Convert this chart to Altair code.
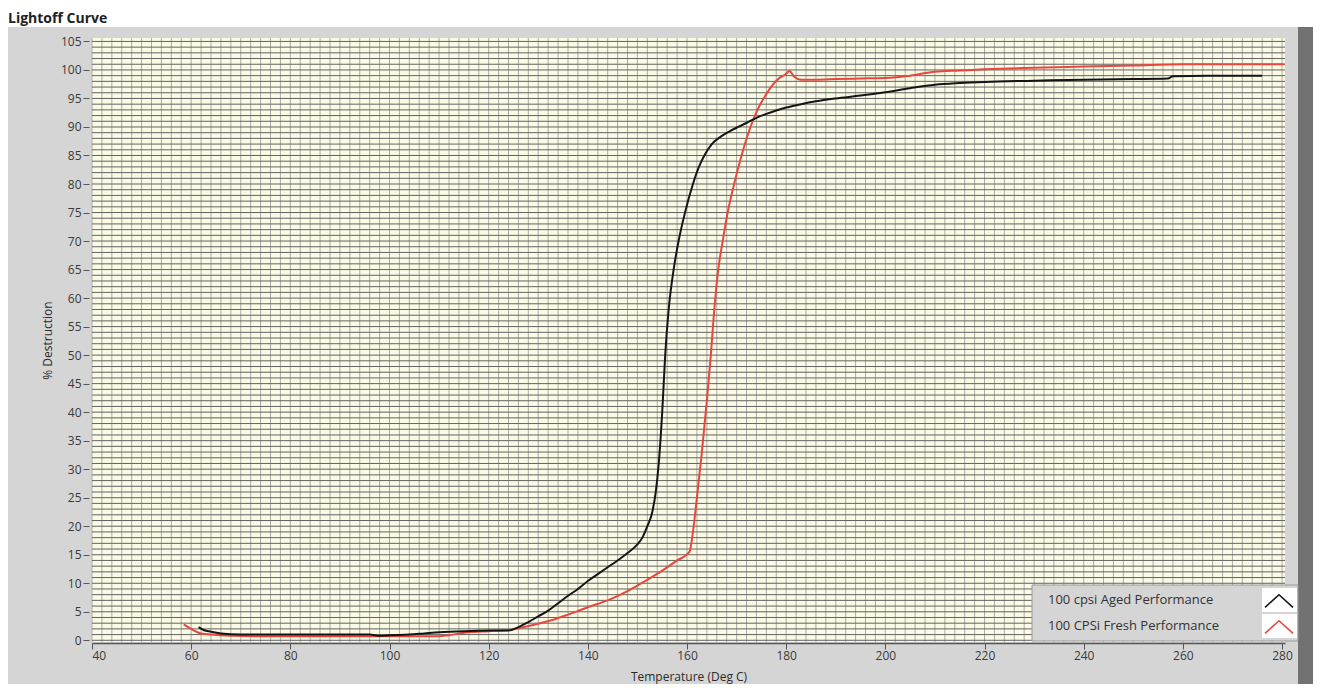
import altair as alt
import pandas as pd

# ---------------- data ----------------
series_names = ["100 cpsi Aged Performance", "100 CPSi Fresh Performance"]
series_colors = ["#151515", "#e8473d"]

aged_temp = [61.5, 62.5, 64, 66, 70, 80, 90, 96, 98, 100, 104, 107, 110, 115, 120, 124,
             126, 128, 130, 132, 134, 136, 138, 140, 142, 144, 146, 148, 150, 151, 152,
             153, 153.7, 154.3, 155, 155.6, 156.3, 157.3, 158.3, 159.6, 161.2, 162.4, 163.5,
             165, 166.8, 168.5, 170.3, 172, 174, 176, 178, 180, 183, 186, 190, 195, 200, 205,
             210, 215, 220, 230, 240, 250, 257, 258, 265, 276]
aged_pct = [2.3, 1.8, 1.5, 1.2, 1.0, 1.0, 1.0, 1.0, 0.8, 0.9, 1.0, 1.2, 1.4, 1.6, 1.7, 1.7,
            2.3, 3.2, 4.2, 5.2, 6.5, 7.8, 9.0, 10.4, 11.6, 12.8, 14.0, 15.3, 16.8, 18.0, 20.0,
            22.5, 26.0, 31.0, 40.0, 50.0, 58.0, 65.0, 70.0, 75.0, 80.0, 83.0, 85.0,
            87.0, 88.3, 89.2, 90.0, 90.7, 91.6, 92.3, 92.9, 93.4, 94.0, 94.5, 95.0, 95.5, 96.1, 96.8,
            97.4, 97.7, 97.9, 98.1, 98.3, 98.4, 98.5, 98.9, 99.0, 99.0]

fresh_temp = [58.5, 60, 62, 64, 68, 75, 90, 100, 110, 112, 116, 120, 124, 127, 130, 133,
              136, 140, 144, 148, 150, 152, 155, 158, 160.5, 161.2, 162, 163, 164, 164.8,
              165.5, 166.3, 167.2, 168.2, 169.5, 171, 172.8, 174.2, 175.8, 177.2, 178.5, 179.8,
              180.7, 181.6, 183, 186, 190, 195, 200, 205, 210, 215, 220, 230, 240, 250, 260,
              270, 280.5]
fresh_pct = [2.8, 2.0, 1.2, 1.0, 0.8, 0.7, 0.7, 0.7, 0.7, 0.9, 1.4, 1.6, 1.8, 2.3, 2.9, 3.6,
             4.5, 5.8, 7.0, 8.6, 9.6, 10.6, 12.2, 14.0, 15.5, 19.0, 25.0, 33.0, 42.0, 50.0,
             58.0, 65.0, 70.0, 75.0, 80.0, 85.0, 90.0, 93.0, 95.5, 97.3, 98.5, 99.2,
             99.8, 98.8, 98.3, 98.3, 98.4, 98.5, 98.6, 99.0, 99.7, 99.9, 100.1, 100.4, 100.6,
             100.8, 101.0, 101.0, 101.0]

x_ticks = list(range(40, 281, 20))
y_ticks = list(range(0, 106, 5))
x_grid = list(range(40, 281, 2))
y_grid = list(range(0, 106, 1))

chart_title = "Lightoff Curve"
x_title = "Temperature (Deg C)"
y_title = "% Destruction"

# ---------------- layout ----------------
W, H = 1193, 604
FONT = "Open Sans"

xscale = alt.Scale(domain=[40, 280.6], nice=False, zero=False)
yscale = alt.Scale(domain=[-0.3, 105.6], nice=False, zero=False)

x_axis = alt.Axis(values=x_ticks, title=x_title, grid=False, zindex=2,
                  domain=True, domainColor="#555555", domainWidth=1.5,
                  ticks=True, tickSize=6, tickColor="#555555", offset=1,
                  labelFont=FONT, labelFontSize=12, labelColor="#3a3a3a", labelPadding=1,
                  titleFont=FONT, titleFontSize=12, titleFontWeight="normal",
                  titleColor="#2a2a2a", titlePadding=10)
y_axis = alt.Axis(values=y_ticks, title=y_title, grid=False, zindex=2,
                  domain=False, ticks=True, tickSize=6, tickColor="#555555", offset=3,
                  labelFont=FONT, labelFontSize=12, labelColor="#3a3a3a", labelPadding=2,
                  titleFont=FONT, titleFontSize=12, titleFontWeight="normal",
                  titleColor="#2a2a2a", titlePadding=6)

dummy = pd.DataFrame({"d": [0]})
aged_df = pd.DataFrame({"temp": aged_temp, "pct": aged_pct})
fresh_df = pd.DataFrame({"temp": fresh_temp, "pct": fresh_pct})
xg_df = pd.DataFrame({"temp": x_grid})
yg_df = pd.DataFrame({"pct": y_grid})

panel = alt.Chart(dummy).mark_rect(color="#d5d5d5").encode(
    x=alt.value(-87), x2=alt.value(1206), y=alt.value(-11), y2=alt.value(660))
strip = alt.Chart(dummy).mark_rect(color="#727272").encode(
    x=alt.value(1206), x2=alt.value(1221), y=alt.value(-11), y2=alt.value(660))
plot_bg = alt.Chart(dummy).mark_rect(color="#fafae6").encode(
    x=alt.value(0), x2=alt.value(W), y=alt.value(0), y2=alt.value(H))

vgrid = alt.Chart(xg_df).mark_rule(color="#aeaea6", strokeWidth=1).encode(
    x=alt.X("temp:Q", scale=xscale, axis=x_axis))
hgrid = alt.Chart(yg_df).mark_rule(color="#636363", strokeWidth=1).encode(
    y=alt.Y("pct:Q", scale=yscale, axis=y_axis))

fresh_line = alt.Chart(fresh_df).mark_line(color=series_colors[1], strokeWidth=2,
                                           interpolate="monotone").encode(
    x=alt.X("temp:Q", scale=xscale, axis=x_axis),
    y=alt.Y("pct:Q", scale=yscale, axis=y_axis))
aged_line = alt.Chart(aged_df).mark_line(color=series_colors[0], strokeWidth=2,
                                         interpolate="monotone").encode(
    x=alt.X("temp:Q", scale=xscale, axis=x_axis),
    y=alt.Y("pct:Q", scale=yscale, axis=y_axis))

# ---------------- legend (drawn box) ----------------
LX0, LX1, LY0, LY1 = 940, 1206, 547, 603
leg_box = alt.Chart(dummy).mark_rect(color="#d5d5d5", stroke="#9a9a9a", strokeWidth=1).encode(
    x=alt.value(LX0), x2=alt.value(LX1), y=alt.value(LY0), y2=alt.value(LY1))
leg_layers = []
row_y = [562, 588]
for i, name in enumerate(series_names):
    leg_layers.append(alt.Chart(dummy).mark_rect(color="white").encode(
        x=alt.value(1170), x2=alt.value(1205),
        y=alt.value(row_y[i] - 12), y2=alt.value(row_y[i] + 12)))
    leg_layers.append(alt.Chart(dummy).mark_point(
        shape="M-1,0.45L0,-0.45L1,0.45", size=780, filled=False,
        stroke=series_colors[i], strokeWidth=1.6, opacity=1).encode(
        x=alt.value(1187), y=alt.value(row_y[i] + 1)))
    leg_layers.append(alt.Chart(dummy).mark_text(
        text=name, align="left", baseline="middle", font=FONT, fontSize=13,
        color="#333333").encode(x=alt.value(956), y=alt.value(row_y[i])))

title_txt = alt.Chart(dummy).mark_text(
    text=chart_title, align="left", baseline="middle", font=FONT, fontSize=14,
    fontWeight="bold", color="#222222").encode(x=alt.value(-84), y=alt.value(-19))

chart = alt.layer(
    panel, strip, plot_bg, vgrid, hgrid, fresh_line, aged_line,
    leg_box, *leg_layers, title_txt
).properties(
    width=W, height=H,
    autosize=alt.AutoSizeParams(type="none"),
    padding={"left": 84, "top": 30, "right": 28, "bottom": 42},
    background="white",
).configure_view(stroke=None)

chart.save("out.html", embed_options={"renderer": "svg", "actions": False})
